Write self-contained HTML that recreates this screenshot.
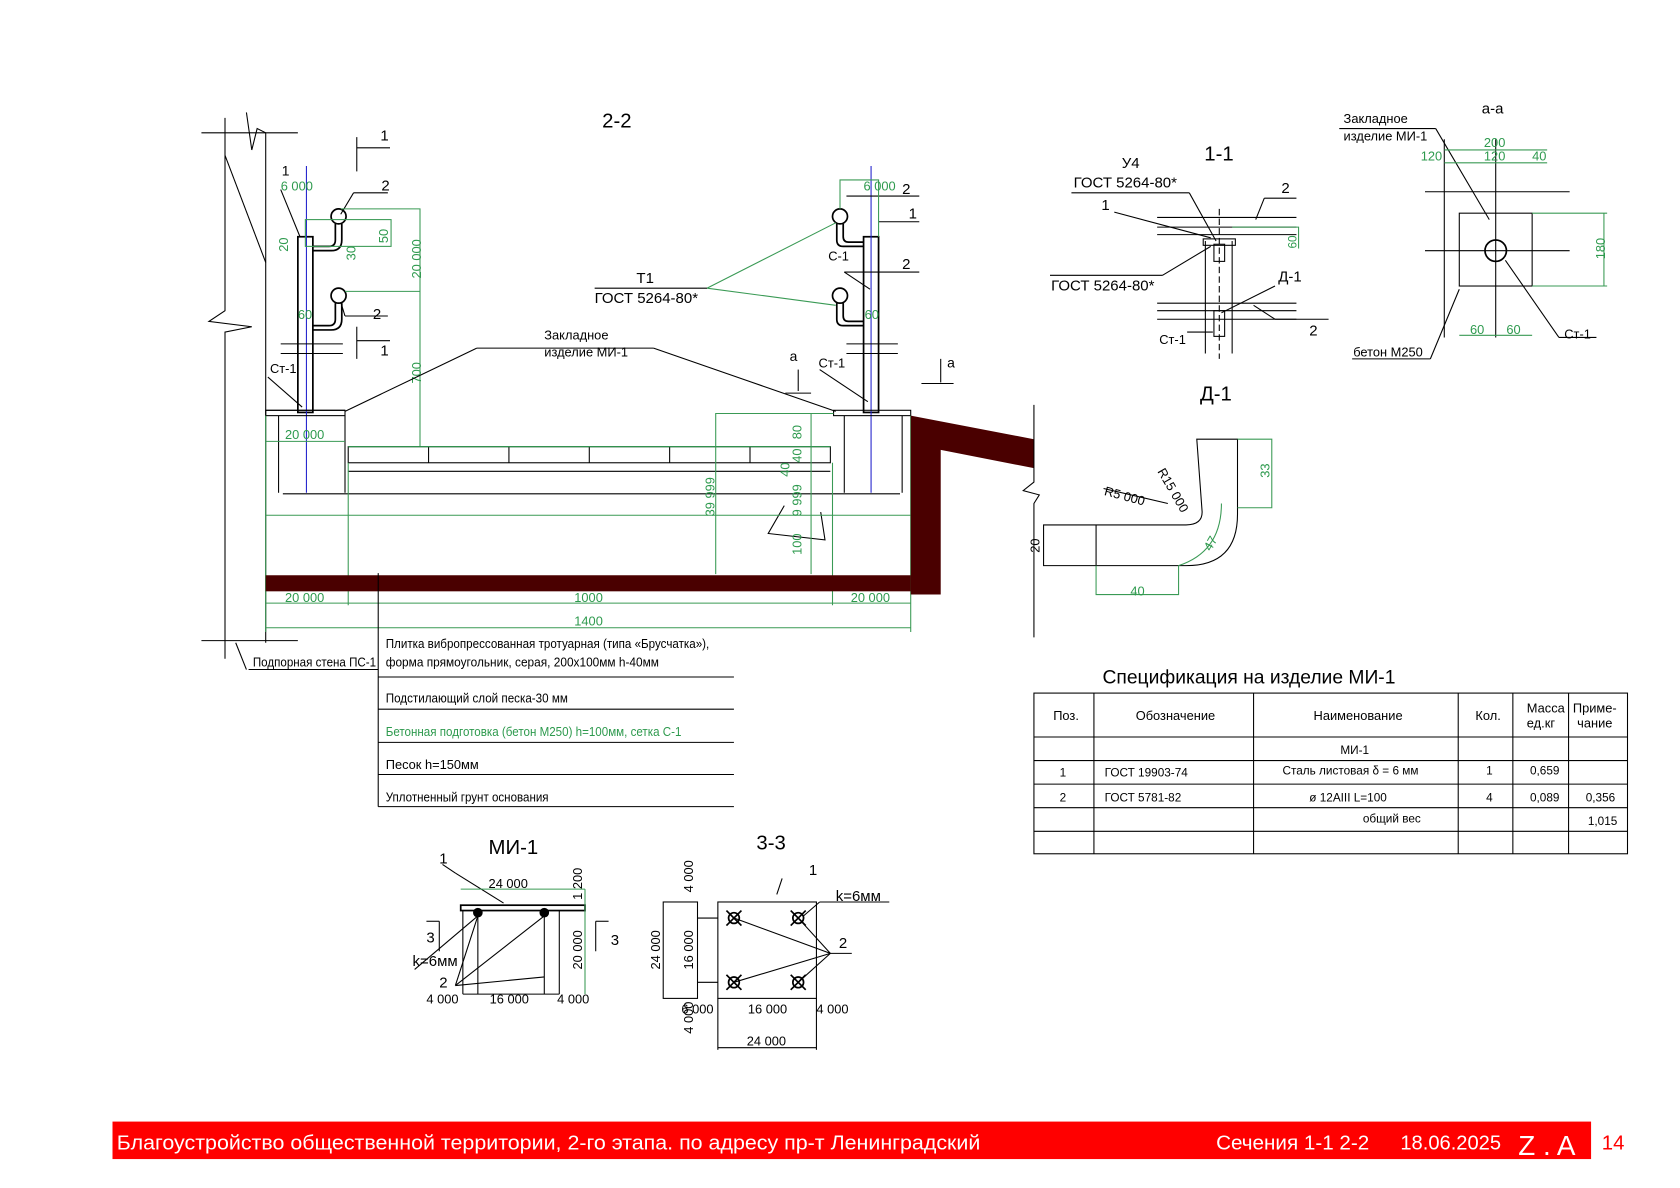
<!DOCTYPE html>
<html><head><meta charset="utf-8"><style>
html,body{margin:0;padding:0;background:#fff}
svg{display:block}
text{font-family:"Liberation Sans","Noto Sans CJK SC",sans-serif}
.g{fill:#2e9a4e}
.gl{stroke:#3a9a55;fill:none;stroke-width:1}
.k{stroke:#000;fill:none;stroke-width:1}
.kb{stroke:#000;fill:none;stroke-width:1.6}
</style></head><body>
<svg width="1680" height="1188" viewBox="0 0 1568 1109" preserveAspectRatio="none" xmlns="http://www.w3.org/2000/svg">
<rect width="1568" height="1109" fill="#fff"/>
<!-- ===== 2-2 ===== -->
<text x="562" y="119" font-size="19">2-2</text>
<g class="k">
<line x1="188" y1="124" x2="278" y2="124"/><line x1="188" y1="598" x2="278" y2="598"/>
<polyline points="210,110 210,290 195,300 235,305 210,310 210,615"/>
<polyline points="248,124 248,600"/>
<polyline points="230,105 235,140 240,120 248,124"/>
<line x1="210" y1="145" x2="248" y2="245"/>
<line x1="220" y1="600" x2="230" y2="625"/>
</g>
<g class="k">
<rect x="278" y="221" width="14" height="164" class="kb"/>
<line x1="286" y1="155" x2="286" y2="460" stroke="#2222cc"/>
<circle cx="316" cy="202" r="7" class="kb"/><circle cx="316" cy="276" r="7" class="kb"/>
<path d="M313 209 v15 q0 6 -6 6 h-15 M319 209 v15 q0 10 -10 10 h-17" class="kb"/>
<path d="M313 283 v15 q0 6 -6 6 h-15 M319 283 v15 q0 10 -10 10 h-17" class="kb"/>
<line x1="262" y1="321" x2="320" y2="321"/><line x1="262" y1="330" x2="320" y2="330"/>
<line x1="248" y1="383" x2="322" y2="383"/><rect x="248" y="383" width="74" height="5"/>
<line x1="260" y1="388" x2="260" y2="460"/><line x1="322" y1="388" x2="322" y2="460"/>
<line x1="262" y1="177" x2="280" y2="221"/>
<line x1="330" y1="180" x2="362" y2="180"/><line x1="330" y1="180" x2="318" y2="200"/>
<line x1="322" y1="295" x2="362" y2="295"/><line x1="322" y1="295" x2="318" y2="282"/>
<line x1="250" y1="352" x2="282" y2="380"/>
<line x1="333" y1="128" x2="333" y2="160"/><line x1="333" y1="138" x2="364" y2="138"/>
<line x1="333" y1="305" x2="333" y2="335"/><line x1="333" y1="318" x2="364" y2="318"/>
</g>
<text x="263" y="164" font-size="13">1</text><text x="356" y="178" font-size="14">2</text>
<text x="348" y="298" font-size="14">2</text><text x="355" y="131" font-size="14">1</text><text x="355" y="332" font-size="14">1</text>
<text x="252" y="348" font-size="12">Ст-1</text>
<g class="g" font-size="12">
<text x="262" y="178">6 000</text><text x="269" y="235" transform="rotate(-90 269 235)">20</text>
<text x="332" y="243" transform="rotate(-90 332 243)">30</text><text x="362" y="227" transform="rotate(-90 362 227)">50</text>
<text x="393" y="260" transform="rotate(-90 393 260)">20 000</text><text x="393" y="358" transform="rotate(-90 393 358)">700</text>
<text x="278" y="298">60</text><text x="266" y="410">20 000</text>
</g>
<g class="gl">
<polyline points="318,195 392,195 392,417"/><line x1="322" y1="272" x2="392" y2="272"/>
<rect x="285" y="205" width="80" height="25"/>
</g>
<g class="k">
<rect x="806" y="221" width="14" height="164" class="kb"/>
<line x1="813" y1="155" x2="813" y2="460" stroke="#2222cc"/>
<circle cx="784" cy="202" r="7" class="kb"/><circle cx="784" cy="276" r="7" class="kb"/>
<path d="M781 209 v15 q0 6 6 6 h19 M787 209 v12 q0 5 5 5 h14" class="kb"/>
<path d="M781 283 v15 q0 6 6 6 h19 M787 283 v12 q0 5 5 5 h14" class="kb"/>
<line x1="790" y1="321" x2="838" y2="321"/><line x1="790" y1="330" x2="838" y2="330"/>
<rect x="778" y="383" width="72" height="5"/>
<line x1="788" y1="388" x2="788" y2="460"/><line x1="842" y1="388" x2="842" y2="460"/>
<line x1="790" y1="183" x2="858" y2="183"/><line x1="820" y1="207" x2="858" y2="207"/>
<line x1="788" y1="254" x2="858" y2="254"/><line x1="788" y1="254" x2="812" y2="270"/>
<line x1="765" y1="345" x2="810" y2="375"/>
<line x1="733" y1="367" x2="757" y2="367"/><line x1="745" y1="345" x2="745" y2="365"/>
<line x1="860" y1="358" x2="890" y2="358"/><line x1="878" y1="335" x2="878" y2="357"/>
<line x1="322" y1="384" x2="445" y2="325"/><line x1="445" y1="325" x2="610" y2="325"/><line x1="610" y1="325" x2="780" y2="384"/>
<line x1="555" y1="269" x2="660" y2="269"/>
</g>
<g class="gl"><line x1="660" y1="269" x2="780" y2="208"/><line x1="660" y1="269" x2="780" y2="285"/>
<polyline points="784,195 784,168 820,168 820,221"/></g>
<text x="842" y="181" font-size="14">2</text><text x="848" y="204" font-size="14">1</text><text x="842" y="251" font-size="14">2</text>
<text x="773" y="243" font-size="12">С-1</text><text x="764" y="343" font-size="12">Ст-1</text>
<text x="737" y="337" font-size="13">а</text><text x="884" y="343" font-size="13">а</text>
<g class="g" font-size="12"><text x="806" y="178">6 000</text><text x="807" y="298">60</text></g>
<text x="594" y="264" font-size="14">Т1</text><text x="555" y="283" font-size="14">ГОСТ 5264-80*</text>
<text x="508" y="317" font-size="12">Закладное</text><text x="508" y="333" font-size="12">изделие МИ-1</text>
<g class="k">
<rect x="325" y="417" width="450" height="15"/>
<line x1="400" y1="417" x2="400" y2="432"/><line x1="475" y1="417" x2="475" y2="432"/><line x1="550" y1="417" x2="550" y2="432"/><line x1="625" y1="417" x2="625" y2="432"/><line x1="700" y1="417" x2="700" y2="432"/>
<line x1="325" y1="440" x2="775" y2="440"/><line x1="264" y1="461" x2="840" y2="461"/>
<polyline points="732,472 717,498 770,504 766,478"/>
</g>
<g class="gl">
<line x1="248" y1="481" x2="850" y2="481"/><line x1="248" y1="412" x2="322" y2="412"/>
<line x1="325" y1="417" x2="775" y2="417" stroke="#2e9a4e"/>
<polyline points="668,536 668,386 778,386"/><polyline points="757,536 757,386"/>
<line x1="248" y1="388" x2="248" y2="590"/><line x1="325" y1="432" x2="325" y2="565"/>
<line x1="777" y1="432" x2="777" y2="565"/><line x1="850" y1="388" x2="850" y2="590"/>
<line x1="248" y1="563" x2="850" y2="563"/><line x1="248" y1="586" x2="850" y2="586"/>
</g>
<rect x="248" y="537" width="602" height="15" fill="#4a0000"/>
<polygon points="850,388 965,410 965,437 878,420 878,555 850,555" fill="#4a0000"/>
<g class="k"><polyline points="965,378 965,450 955,458 970,462 965,470 965,595"/>
<line x1="353" y1="535" x2="353" y2="753"/></g>
<g class="g" font-size="12">
<text x="667" y="482" transform="rotate(-90 667 482)">39 999</text><text x="748" y="482" transform="rotate(-90 748 482)">9 999</text>
<text x="737" y="445" transform="rotate(-90 737 445)">40</text><text x="748" y="432" transform="rotate(-90 748 432)">40</text>
<text x="748" y="410" transform="rotate(-90 748 410)">80</text><text x="748" y="518" transform="rotate(-90 748 518)">100</text>
<text x="266" y="562">20 000</text><text x="536" y="562">1000</text><text x="794" y="562">20 000</text><text x="536" y="584">1400</text>
</g>
<g class="k"><line x1="353" y1="632" x2="685" y2="632"/><line x1="353" y1="662" x2="685" y2="662"/><line x1="353" y1="693" x2="685" y2="693"/><line x1="353" y1="723" x2="685" y2="723"/><line x1="353" y1="753" x2="685" y2="753"/>
<line x1="232" y1="625" x2="353" y2="625"/></g>
<g font-size="12">
<text x="360" y="605" textLength="302" lengthAdjust="spacingAndGlyphs">Плитка вибропрессованная тротуарная (типа «Брусчатка»),</text>
<text x="360" y="622" textLength="255" lengthAdjust="spacingAndGlyphs">форма прямоугольник, серая,  200х100мм  h-40мм</text>
<text x="360" y="656" textLength="170" lengthAdjust="spacingAndGlyphs">Подстилающий слой песка-30 мм</text>
<text x="360" y="687" class="g" textLength="276" lengthAdjust="spacingAndGlyphs">Бетонная подготовка (бетон М250) h=100мм, сетка С-1</text>
<text x="360" y="718">Песок h=150мм</text>
<text x="360" y="748" textLength="152" lengthAdjust="spacingAndGlyphs">Уплотненный грунт основания</text>
<text x="236" y="622" textLength="115" lengthAdjust="spacingAndGlyphs">Подпорная стена ПС-1</text>
</g>
<!-- ===== 1-1 ===== -->
<text x="1124" y="150" font-size="19">1-1</text>
<text x="1047" y="157" font-size="14">У4</text><text x="1002" y="175" font-size="14">ГОСТ 5264-80*</text>
<text x="1028" y="196" font-size="14">1</text><text x="1196" y="180" font-size="14">2</text>
<text x="981" y="271" font-size="14">ГОСТ 5264-80*</text><text x="1193" y="263" font-size="14">Д-1</text>
<text x="1222" y="313" font-size="14">2</text><text x="1082" y="321" font-size="12">Ст-1</text>
<g class="k">
<line x1="1000" y1="180" x2="1110" y2="180"/><line x1="1110" y1="180" x2="1135" y2="225"/>
<line x1="1080" y1="203" x2="1210" y2="203"/><line x1="1080" y1="212" x2="1210" y2="212"/><line x1="1080" y1="219" x2="1210" y2="219"/>
<line x1="1080" y1="283" x2="1210" y2="283"/><line x1="1080" y1="290" x2="1210" y2="290"/><line x1="1080" y1="298" x2="1210" y2="298"/>
<line x1="1125" y1="225" x2="1125" y2="330"/><line x1="1150" y1="225" x2="1150" y2="330"/><rect x="1123" y="223" width="30" height="6"/>
<rect x="1133" y="228" width="10" height="16"/><rect x="1133" y="290" width="10" height="24"/>
<line x1="1138" y1="195" x2="1138" y2="335" stroke-dasharray="6 3"/>
<line x1="1040" y1="198" x2="1130" y2="222"/><line x1="980" y1="257" x2="1085" y2="257"/><line x1="1085" y1="257" x2="1130" y2="230"/>
<line x1="1180" y1="185" x2="1210" y2="185"/><line x1="1172" y1="205" x2="1180" y2="185"/>
<line x1="1190" y1="267" x2="1140" y2="292"/><line x1="1190" y1="298" x2="1240" y2="298"/><line x1="1170" y1="285" x2="1190" y2="298"/>
<line x1="1108" y1="310" x2="1132" y2="310"/>
</g>
<g class="gl"><polyline points="1150,212 1212,212 1212,232"/></g>
<text x="1210" y="232" class="g" font-size="11" transform="rotate(-90 1210 232)">60</text>
<!-- ===== а-а ===== -->
<text x="1383" y="106" font-size="14">а-а</text>
<text x="1254" y="115" font-size="12">Закладное</text><text x="1254" y="131" font-size="12">изделие МИ-1</text>
<g class="k">
<rect x="1362" y="199" width="68" height="68"/>
<line x1="1330" y1="179" x2="1465" y2="179"/><line x1="1330" y1="234" x2="1465" y2="234"/>
<line x1="1348" y1="130" x2="1348" y2="315"/><line x1="1396" y1="130" x2="1396" y2="315"/>
<circle cx="1396" cy="234" r="10" class="kb"/>
<line x1="1250" y1="120" x2="1340" y2="120"/><line x1="1340" y1="120" x2="1390" y2="205"/>
<line x1="1405" y1="243" x2="1455" y2="315"/><line x1="1455" y1="315" x2="1490" y2="315"/>
<line x1="1262" y1="335" x2="1335" y2="335"/><line x1="1335" y1="335" x2="1362" y2="270"/>
</g>
<g class="gl"><line x1="1348" y1="140" x2="1444" y2="140"/><line x1="1348" y1="152" x2="1444" y2="152"/>
<line x1="1430" y1="199" x2="1500" y2="199"/><line x1="1430" y1="267" x2="1500" y2="267"/><line x1="1497" y1="199" x2="1497" y2="267"/>
<line x1="1362" y1="313" x2="1430" y2="313"/></g>
<g class="g" font-size="12"><text x="1385" y="137">200</text><text x="1326" y="150">120</text><text x="1385" y="150">120</text><text x="1430" y="150">40</text>
<text x="1498" y="242" transform="rotate(-90 1498 242)">180</text><text x="1372" y="312">60</text><text x="1406" y="312">60</text></g>
<text x="1263" y="333" font-size="12">бетон М250</text><text x="1460" y="316" font-size="12">Ст-1</text>
<!-- ===== Д-1 ===== -->
<text x="1120" y="374" font-size="19">Д-1</text>
<g class="k">
<path d="M1117 410 h38 v70 q0 48 -48 48 h-133 v-38 h133 q15 0 15 -12 z"/>
<line x1="1023" y1="490" x2="1023" y2="528"/><line x1="1030" y1="456" x2="1090" y2="470"/>
</g>
<g class="gl"><polyline points="1155,410 1187,410 1187,474 1155,474"/><polyline points="1023,528 1023,555 1100,555 1100,528"/>
<path d="M1140 470 q0 45 -40 58"/></g>
<g class="g" font-size="12"><text x="1185" y="446" transform="rotate(-90 1185 446)">33</text><text x="1055" y="556">40</text><text x="1130" y="515" transform="rotate(-60 1130 515)">47</text></g>
<text x="970" y="516" font-size="12" transform="rotate(-90 970 516)">20</text>
<text x="1030" y="462" font-size="12" transform="rotate(15 1030 462)">R5 000</text>
<text x="1080" y="440" font-size="12" transform="rotate(60 1080 440)">R15 000</text>
<!-- ===== spec table ===== -->
<text x="1029" y="638" font-size="18">Спецификация на изделие МИ-1</text>
<g class="k">
<rect x="965" y="647" width="554" height="150"/>
<line x1="965" y1="688" x2="1519" y2="688"/><line x1="965" y1="710" x2="1519" y2="710"/><line x1="965" y1="732" x2="1519" y2="732"/><line x1="965" y1="754" x2="1519" y2="754"/><line x1="965" y1="776" x2="1519" y2="776"/>
<line x1="1021" y1="647" x2="1021" y2="797"/><line x1="1170" y1="647" x2="1170" y2="797"/><line x1="1361" y1="647" x2="1361" y2="797"/><line x1="1412" y1="647" x2="1412" y2="797"/><line x1="1464" y1="647" x2="1464" y2="797"/>
</g>
<g font-size="12">
<text x="983" y="672">Поз.</text><text x="1060" y="672">Обозначение</text><text x="1226" y="672">Наименование</text><text x="1377" y="672">Кол.</text>
<text x="1425" y="665">Масса</text><text x="1425" y="679">ед.кг</text><text x="1468" y="665">Приме-</text><text x="1472" y="679">чание</text>
<text x="1251" y="704" font-size="11">МИ-1</text>
<text x="989" y="725" font-size="11">1</text><text x="1031" y="725" font-size="11">ГОСТ 19903-74</text><text x="1197" y="723" font-size="11">Сталь листовая  δ = 6 мм</text><text x="1387" y="723" font-size="11">1</text><text x="1428" y="723" font-size="11">0,659</text>
<text x="989" y="748" font-size="11">2</text><text x="1031" y="748" font-size="11">ГОСТ 5781-82</text><text x="1222" y="748" font-size="11">ø 12AIII          L=100</text><text x="1387" y="748" font-size="11">4</text><text x="1428" y="748" font-size="11">0,089</text><text x="1480" y="748" font-size="11">0,356</text>
<text x="1272" y="768" font-size="11">общий вес</text><text x="1482" y="770" font-size="11">1,015</text>
</g>
<!-- ===== МИ-1 ===== -->
<text x="456" y="797" font-size="19">МИ-1</text>
<g class="k">
<rect x="430" y="845" width="116" height="5" class="kb"/>
<line x1="432" y1="850" x2="432" y2="928"/><line x1="446" y1="850" x2="446" y2="928"/><line x1="508" y1="850" x2="508" y2="928"/><line x1="522" y1="850" x2="522" y2="928"/>
<line x1="432" y1="928" x2="522" y2="928"/>
<circle cx="446" cy="852" r="4" fill="#000"/><circle cx="508" cy="852" r="4" fill="#000"/>
<line x1="413" y1="807" x2="425" y2="815"/><line x1="425" y1="815" x2="470" y2="843"/>
<line x1="387" y1="905" x2="446" y2="855"/><line x1="425" y1="920" x2="446" y2="855"/><line x1="425" y1="920" x2="508" y2="855"/><line x1="425" y1="920" x2="508" y2="912"/>
<line x1="398" y1="860" x2="410" y2="860"/><line x1="410" y1="860" x2="410" y2="888"/><line x1="556" y1="860" x2="568" y2="860"/><line x1="556" y1="860" x2="556" y2="888"/>
</g>
<g class="gl"><line x1="430" y1="830" x2="546" y2="830"/><line x1="546" y1="830" x2="546" y2="928"/></g>
<text x="410" y="806" font-size="14">1</text><text x="398" y="880" font-size="14">3</text><text x="570" y="882" font-size="14">3</text>
<text x="385" y="902" font-size="14">k=6мм</text><text x="410" y="922" font-size="14">2</text>
<g font-size="12"><text x="456" y="829">24 000</text><text x="543" y="840" transform="rotate(-90 543 840)">1 200</text>
<text x="543" y="905" transform="rotate(-90 543 905)">20 000</text><text x="398" y="937">4 000</text><text x="457" y="937">16 000</text><text x="520" y="937">4 000</text></g>
<!-- ===== 3-3 ===== -->
<text x="706" y="793" font-size="19">3-3</text>
<g class="k">
<rect x="670" y="842" width="92" height="90"/>
<rect x="619" y="842" width="32" height="90"/>
<line x1="651" y1="857" x2="670" y2="857"/><line x1="651" y1="917" x2="670" y2="917"/>
<line x1="670" y1="978" x2="762" y2="978"/><line x1="670" y1="932" x2="670" y2="980"/><line x1="762" y1="932" x2="762" y2="980"/>
<line x1="730" y1="820" x2="725" y2="835"/>
<line x1="685" y1="857" x2="775" y2="890"/><line x1="685" y1="917" x2="775" y2="890"/><line x1="745" y1="857" x2="775" y2="890"/><line x1="745" y1="917" x2="775" y2="890"/>
<line x1="765" y1="842" x2="830" y2="842"/><line x1="765" y1="842" x2="750" y2="855"/><line x1="775" y1="890" x2="795" y2="890"/>
</g>
<g class="kb">
<circle cx="685" cy="857" r="5"/><circle cx="745" cy="857" r="5"/><circle cx="685" cy="917" r="5"/><circle cx="745" cy="917" r="5"/>
<path d="M678 850 l14 14 M692 850 l-14 14 M738 850 l14 14 M752 850 l-14 14 M678 910 l14 14 M692 910 l-14 14 M738 910 l14 14 M752 910 l-14 14"/>
</g>
<text x="755" y="817" font-size="14">1</text><text x="780" y="841" font-size="14">k=6мм</text><text x="783" y="885" font-size="14">2</text>
<g font-size="12"><text x="616" y="905" transform="rotate(-90 616 905)">24 000</text><text x="647" y="833" transform="rotate(-90 647 833)">4 000</text>
<text x="647" y="905" transform="rotate(-90 647 905)">16 000</text><text x="647" y="965" transform="rotate(-90 647 965)">4 000</text>
<text x="636" y="946">6 000</text><text x="698" y="946">16 000</text><text x="762" y="946">4 000</text><text x="697" y="976">24 000</text></g>
<!-- ===== footer ===== -->
<rect x="105" y="1047" width="1380" height="35" fill="#ff0000"/>
<g fill="#fff" font-size="19">
<text x="109" y="1073" textLength="806" lengthAdjust="spacingAndGlyphs">Благоустройство общественной территории, 2-го этапа. по адресу пр-т Ленинградский</text>
<text x="1135" y="1073" textLength="143" lengthAdjust="spacingAndGlyphs">Сечения 1-1 2-2</text>
<text x="1307" y="1073" textLength="94" lengthAdjust="spacingAndGlyphs">18.06.2025</text>
<text x="1417" y="1078" font-size="26">Z . A</text>
</g>
<text x="1495" y="1073" font-size="19" fill="#ff0000">14</text>
</svg>
</body></html>
